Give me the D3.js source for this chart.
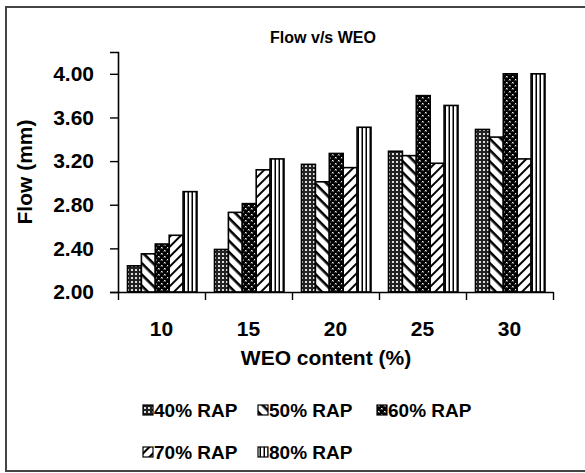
<!DOCTYPE html>
<html>
<head>
<meta charset="utf-8">
<script src="https://cdn.jsdelivr.net/npm/d3@7"></script>
<style>
  html, body { margin: 0; padding: 0; background: #fff; }
  svg { display: block; }
  text { font-family: "Liberation Sans", Arial, sans-serif; font-weight: bold; fill: #000; }
</style>
</head>
<body>
<svg id="chart" width="585" height="473"></svg>
<script>
// WEO content categories (x axis)
const categories = ["10", "15", "20", "25", "30"];
// RAP series names
const seriesNames = ["40% RAP", "50% RAP", "60% RAP", "70% RAP", "80% RAP"];
// Flow (mm) per series, one value per WEO content
const rap40 = [2.24, 2.39, 3.17, 3.29, 3.49];
const rap50 = [2.35, 2.73, 3.01, 3.25, 3.42];
const rap60 = [2.44, 2.81, 3.27, 3.80, 4.00];
const rap70 = [2.52, 3.12, 3.14, 3.18, 3.22];
const rap80 = [2.92, 3.22, 3.51, 3.71, 4.00];
const yTicks = [2.0, 2.4, 2.8, 3.2, 3.6, 4.0];

const seriesValues = [rap40, rap50, rap60, rap70, rap80];
const patternIds = ["p40", "p50", "p60", "p70", "p80"];

const svg = d3.select("#chart");

// outer frame
svg.append("rect")
  .attr("x", 6).attr("y", 7).attr("width", 585).attr("height", 464)
  .attr("fill", "none").attr("stroke", "#444").attr("stroke-width", 2);

// fill patterns
const defs = svg.append("defs");

// 40%: dark mesh with small white dots
const p40 = defs.append("pattern").attr("id", "p40").attr("patternUnits", "userSpaceOnUse")
  .attr("width", 4).attr("height", 4);
p40.append("rect").attr("width", 4).attr("height", 4).attr("fill", "#222");
p40.append("rect").attr("x", 1).attr("y", 1).attr("width", 2).attr("height", 2).attr("fill", "#fff");
p40.append("rect").attr("x", 1.5).attr("y", 1.5).attr("width", 1).attr("height", 1).attr("fill", "#777");

// 50%: wide downward diagonal
const p50 = defs.append("pattern").attr("id", "p50").attr("patternUnits", "userSpaceOnUse")
  .attr("width", 8).attr("height", 8).attr("patternTransform", "rotate(45)");
p50.append("rect").attr("width", 8).attr("height", 8).attr("fill", "#fff");
p50.append("rect").attr("width", 8).attr("height", 2.6).attr("fill", "#000");

// 60%: dark background with white crosses
const p60 = defs.append("pattern").attr("id", "p60").attr("patternUnits", "userSpaceOnUse")
  .attr("width", 6).attr("height", 6);
p60.append("rect").attr("width", 6).attr("height", 6).attr("fill", "#000");
p60.append("path").attr("d", "M1,1L2.5,2.5M2.5,1L1,2.5M4,4L5.5,5.5M5.5,4L4,5.5")
  .attr("stroke", "#fff").attr("stroke-width", 0.9);

// 70%: upward diagonal
const p70 = defs.append("pattern").attr("id", "p70").attr("patternUnits", "userSpaceOnUse")
  .attr("width", 7).attr("height", 7).attr("patternTransform", "rotate(-45)");
p70.append("rect").attr("width", 7).attr("height", 7).attr("fill", "#fff");
p70.append("rect").attr("width", 7).attr("height", 2).attr("fill", "#000");

// 80%: vertical stripes
const p80 = defs.append("pattern").attr("id", "p80").attr("patternUnits", "userSpaceOnUse")
  .attr("width", 4).attr("height", 4);
p80.append("rect").attr("width", 4).attr("height", 4).attr("fill", "#fff");
p80.append("rect").attr("x", 1.5).attr("width", 1.5).attr("height", 4).attr("fill", "#000");

// scales
const plotLeft = 118, plotRight = 553, plotTop = 52, plotBottom = 292;

const x0 = d3.scaleBand().domain(categories).range([plotLeft, plotRight]).padding(0);
const x1 = d3.scaleBand().domain(seriesNames)
  .range([9.5, x0.bandwidth() - 8]).padding(0);
const y = d3.scaleLinear().domain([2.0, 4.2]).range([plotBottom, plotTop]);

// bars
const groups = svg.append("g").selectAll("g")
  .data(categories)
  .join("g")
  .attr("transform", d => `translate(${x0(d)},0)`);

groups.selectAll("rect")
  .data((c, ci) => seriesNames.map((s, si) => ({ s, si, v: seriesValues[si][ci] })))
  .join("rect")
  .attr("x", d => x1(d.s))
  .attr("y", d => y(d.v))
  .attr("width", x1.bandwidth())
  .attr("height", d => y(2.0) - y(d.v))
  .attr("fill", d => `url(#${patternIds[d.si]})`)
  .attr("stroke", "#000")
  .attr("stroke-width", 1.6);

// y axis
const yAxis = svg.append("g")
  .attr("transform", `translate(${plotLeft},0)`)
  .call(d3.axisLeft(y).tickValues(yTicks).tickFormat(d3.format(".2f")).tickSize(8).tickPadding(16));
yAxis.select(".domain").attr("stroke", "#000").attr("stroke-width", 1.6);
yAxis.selectAll(".tick line").attr("stroke", "#000").attr("stroke-width", 1.4);
yAxis.selectAll(".tick text").style("font-size", "21px").style("font-family", "'Liberation Sans', Arial, sans-serif").style("font-weight", "bold");

// x axis: boundary ticks
const xb = d3.scaleLinear().domain([0, categories.length]).range([plotLeft, plotRight]);
const xTicks = svg.append("g")
  .attr("transform", `translate(0,${plotBottom})`)
  .call(d3.axisBottom(xb).tickValues(d3.range(categories.length + 1)).tickFormat("").tickSize(8).tickSizeOuter(0));
xTicks.select(".domain").attr("stroke", "#000").attr("stroke-width", 1.6);
xTicks.selectAll(".tick line").attr("stroke", "#000").attr("stroke-width", 1.4);

// x axis: category labels
const xLabels = svg.append("g")
  .attr("transform", `translate(0,${plotBottom})`)
  .call(d3.axisBottom(x0).tickSize(0).tickPadding(29));
xLabels.select(".domain").remove();
xLabels.selectAll(".tick text").style("font-size", "21px").style("font-family", "'Liberation Sans', Arial, sans-serif").style("font-weight", "bold");

// titles
svg.append("text")
  .attr("x", 323).attr("y", 43)
  .attr("text-anchor", "middle")
  .style("font-size", "16px")
  .text("Flow v/s WEO");

svg.append("text")
  .attr("x", 326).attr("y", 365)
  .attr("text-anchor", "middle")
  .style("font-size", "21px")
  .text("WEO content (%)");

svg.append("text")
  .attr("transform", "translate(32,172) rotate(-90)")
  .attr("text-anchor", "middle")
  .style("font-size", "21px")
  .text("Flow (mm)");

// legend
const legendPos = [
  [143, 410], [258, 410], [377, 410],
  [143, 452], [258, 452]
];
const legend = svg.append("g").selectAll("g")
  .data(seriesNames)
  .join("g")
  .attr("transform", (d, i) => `translate(${legendPos[i][0]},${legendPos[i][1]})`);
legend.append("rect")
  .attr("x", 0).attr("y", -5).attr("width", 10).attr("height", 10)
  .attr("fill", (d, i) => `url(#${patternIds[i]})`)
  .attr("stroke", "#000").attr("stroke-width", 1.2);
legend.append("text")
  .attr("x", 11).attr("y", 0).attr("dy", "0.35em")
  .style("font-size", "19px")
  .text(d => d);
</script>
</body>
</html>
